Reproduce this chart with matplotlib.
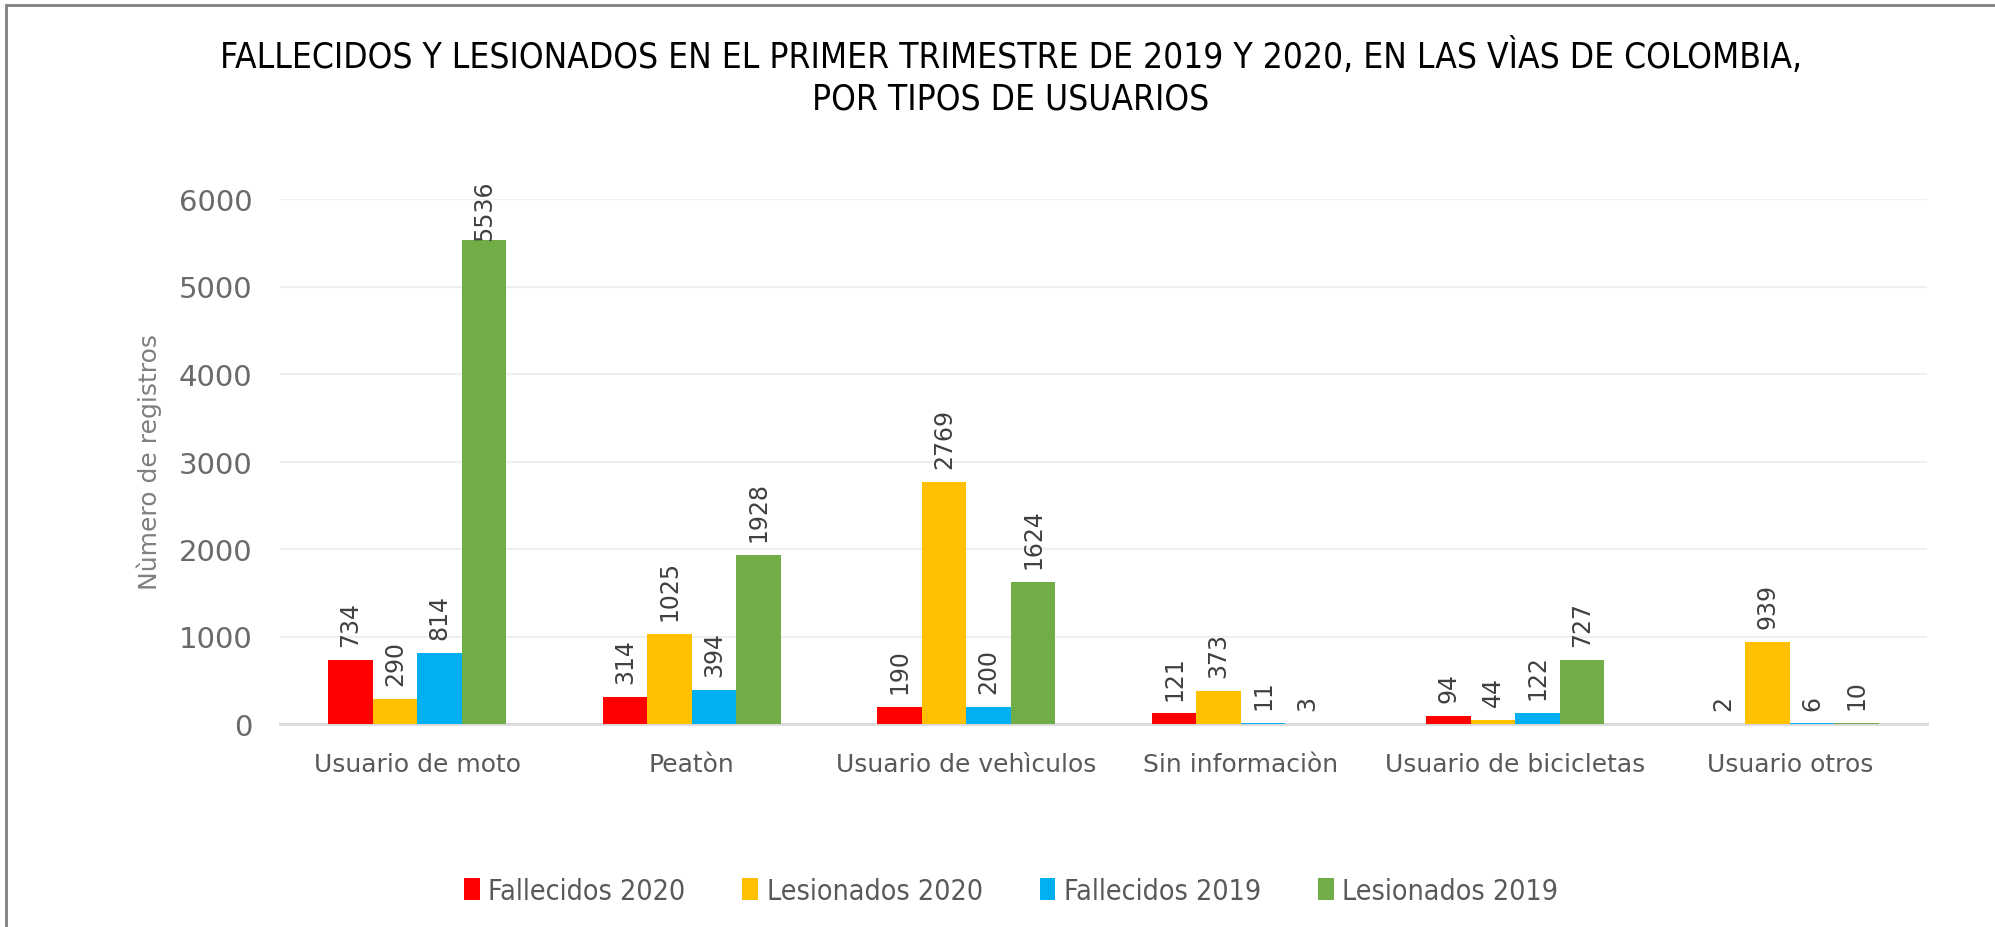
import numpy as np
from matplotlib import pyplot as plt
from matplotlib.patches import Rectangle

categorias = ['Usuario de moto', 'Peatòn', 'Usuario de vehìculos',
              'Sin informaciòn', 'Usuario de bicicletas', 'Usuario otros']
fallecidos_2020 = [734, 314, 190, 121, 94, 2]
lesionados_2020 = [290, 1025, 2769, 373, 44, 939]
fallecidos_2019 = [814, 394, 200, 11, 122, 6]
lesionados_2019 = [5536, 1928, 1624, 3, 727, 10]

series = [
    ('Fallecidos 2020', fallecidos_2020, '#ff0000'),
    ('Lesionados 2020', lesionados_2020, '#ffc000'),
    ('Fallecidos 2019', fallecidos_2019, '#00b0f0'),
    ('Lesionados 2019', lesionados_2019, '#70ad47'),
]

plt.rcParams['font.family'] = ['DejaVu Sans']

fig = plt.figure(figsize=(19.95, 9.28), dpi=100)
ax = fig.add_axes([280 / 1995, 1 - 725 / 928, (1927 - 280) / 1995, (725 - 200) / 928])

x = np.arange(len(categorias))
w = 0.162
ymax = 6000
for i, (nombre, valores, color) in enumerate(series):
    pos = x + (i - 1.5) * w
    barras = ax.bar(pos, valores, w, color=color, label=nombre, zorder=3)
    for b in barras:
        h = b.get_height()
        # como en Excel: si no cabe encima, la etiqueta se pega a la barra
        off = 0 if h > ymax * 0.9 else 10
        ax.annotate('%d' % h, (b.get_x() + b.get_width() / 2, h),
                    xytext=(0, off), textcoords='offset points', rotation=90,
                    ha='center', va='bottom', fontsize=17, color='#404040', zorder=4)

ax.set_xlim(-0.5, len(categorias) - 0.5)
ax.set_ylim(0, ymax)
ax.set_yticks(range(0, ymax + 1, 1000))
ax.set_xticks(x)
ax.set_xticklabels(categorias, fontsize=18, color='#595959')
ax.tick_params(axis='y', labelsize=21, labelcolor='#6a6a6a', length=0, pad=20)
ax.tick_params(axis='x', length=0, pad=20)
ax.grid(axis='y', color='#efefef', linewidth=1.5, zorder=0)
for s in ['top', 'right', 'left']:
    ax.spines[s].set_visible(False)
ax.spines['bottom'].set_color('#d9d9d9')
ax.spines['bottom'].set_linewidth(2)
ax.set_ylabel('Nùmero de registros', fontsize=18, color='#7f7f7f', labelpad=12)

fig.text(1011 / 1995, 1 - 56 / 928, 'FALLECIDOS Y LESIONADOS EN EL PRIMER TRIMESTRE DE 2019 Y 2020, EN LAS VÌAS DE COLOMBIA,',
         ha='center', va='center', fontsize=25.3, stretch='condensed', color='#000000')
fig.text(1011 / 1995, 1 - 99 / 928, 'POR TIPOS DE USUARIOS',
         ha='center', va='center', fontsize=25.3, stretch='condensed', color='#000000')

leg = fig.legend(loc='center', bbox_to_anchor=(1011 / 1995, 1 - 892 / 928), ncol=4,
                 frameon=False, handlelength=0.55, handleheight=0.8, handletextpad=0.3,
                 columnspacing=2.0, prop={'size': 20.5, 'stretch': 'condensed'})
for t in leg.get_texts():
    t.set_color('#595959')

fig.patches.append(Rectangle((6 / 1995, -0.1), 1.2, 1 - 6 / 928 + 0.1, transform=fig.transFigure,
                             fill=False, edgecolor='#808080', linewidth=2))

fig.savefig('out.png', dpi=100)
